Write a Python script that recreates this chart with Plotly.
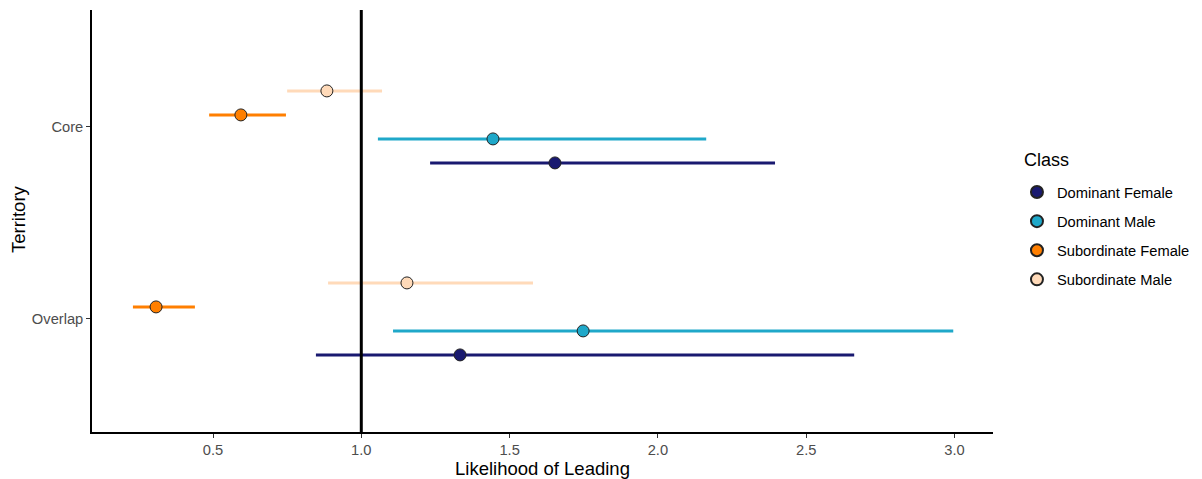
import plotly.graph_objects as go

territories = ["Core", "Overlap"]
territory_pos = {"Core": 2, "Overlap": 1}

classes = ["Dominant Female", "Dominant Male", "Subordinate Female", "Subordinate Male"]
colors = {
    "Dominant Female": "#191970",
    "Dominant Male": "#1fa8c9",
    "Subordinate Female": "#ff7f00",
    "Subordinate Male": "#ffdab9",
}
dodge = {
    "Dominant Female": -0.1875,
    "Dominant Male": -0.0625,
    "Subordinate Female": 0.0625,
    "Subordinate Male": 0.1875,
}

# estimates per class, order = territories (Core, Overlap)
estimate = {
    "Dominant Female": [1.653, 1.333],
    "Dominant Male": [1.444, 1.748],
    "Subordinate Female": [0.594, 0.308],
    "Subordinate Male": [0.884, 1.154],
}
lower = {
    "Dominant Female": [1.232, 0.847],
    "Dominant Male": [1.056, 1.107],
    "Subordinate Female": [0.487, 0.230],
    "Subordinate Male": [0.750, 0.888],
}
upper = {
    "Dominant Female": [2.395, 2.662],
    "Dominant Male": [2.163, 2.996],
    "Subordinate Female": [0.746, 0.439],
    "Subordinate Male": [1.070, 1.579],
}

fig = go.Figure()

# error bars
for c in classes:
    xs, ys = [], []
    for i, t in enumerate(territories):
        y = territory_pos[t] + dodge[c]
        xs += [lower[c][i], upper[c][i], None]
        ys += [y, y, None]
    fig.add_trace(go.Scatter(x=xs, y=ys, mode="lines",
                             line=dict(color=colors[c], width=3),
                             showlegend=False, hoverinfo="skip",
                             legendgroup=c))

# reference line at 1
fig.add_trace(go.Scatter(x=[1, 1], y=[0.3, 2.7], mode="lines",
                         line=dict(color="black", width=3),
                         showlegend=False, hoverinfo="skip"))

# points
for c in classes:
    ys = [territory_pos[t] + dodge[c] for t in territories]
    fig.add_trace(go.Scatter(x=estimate[c], y=ys, mode="markers", name=c,
                             legendgroup=c,
                             marker=dict(color=colors[c], size=12,
                                         line=dict(color="#222222", width=1))))

fig.update_layout(
    width=1202, height=479,
    margin=dict(l=92, r=209, t=10, b=47, autoexpand=False),
    paper_bgcolor="white", plot_bgcolor="white",
    font=dict(family="Liberation Sans, Arial, sans-serif", color="black"),
    legend=dict(
        x=1.0266, xanchor="left", y=0.4645, yanchor="middle",
        font=dict(size=14.7, color="black"),
        tracegroupgap=7,
        itemsizing="constant",
    ),
    annotations=[
        dict(text="Class", xref="paper", yref="paper",
             x=(1022 - 92) / 901, xanchor="left",
             y=(432 - 160) / 422, yanchor="middle",
             showarrow=False, font=dict(size=18, color="black")),
        dict(text="Territory", xref="paper", yref="paper",
             x=(19 - 92) / 901, xanchor="center",
             y=(432 - 219) / 422, yanchor="middle", textangle=-90,
             showarrow=False, font=dict(size=18.5, color="black")),
    ],
    xaxis=dict(
        range=[0.092, 3.13], automargin=False,
        tickvals=[0.5, 1.0, 1.5, 2.0, 2.5, 3.0],
        ticktext=["0.5", "1.0", "1.5", "2.0", "2.5", "3.0"],
        showgrid=False, zeroline=False,
        showline=True, linecolor="black", linewidth=1.5,
        ticks="outside", ticklen=4, tickcolor="#333333", tickwidth=1,
        ticklabelstandoff=0,
        tickfont=dict(size=14.7, color="#4d4d4d"),
        title=dict(text="Likelihood of Leading", font=dict(size=18.5, color="black")),
    ),
    yaxis=dict(
        range=[0.411, 2.609], automargin=False,
        tickvals=[territory_pos[t] for t in territories],
        ticktext=territories,
        showgrid=False, zeroline=False,
        showline=True, linecolor="black", linewidth=1.5,
        ticks="outside", ticklen=4, tickcolor="#333333", tickwidth=1,
        tickfont=dict(size=14.7, color="#4d4d4d"),
    ),
)

fig.write_html("out.html")
